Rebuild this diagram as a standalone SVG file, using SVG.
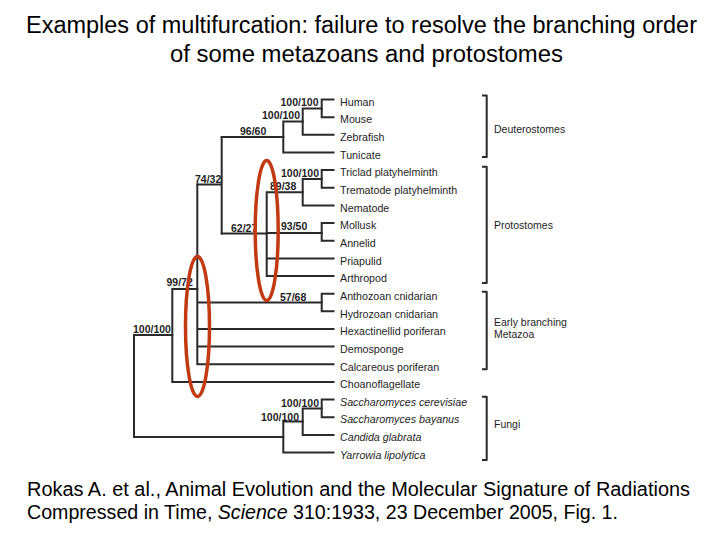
<svg xmlns="http://www.w3.org/2000/svg" width="720" height="540" viewBox="0 0 720 540">
<style>
.title{font-family:"Liberation Sans",Arial,sans-serif;font-size:23.5px;fill:#000}
.cite{font-family:"Liberation Sans",Arial,sans-serif;font-size:20px;fill:#000}
.leaf{font-family:"Liberation Sans",Arial,sans-serif;font-size:10.7px;fill:#1e1e1e}
.it{font-style:italic}
.bs{font-family:"Liberation Sans",Arial,sans-serif;font-size:10.5px;font-weight:bold;fill:#1e1e1e}
.clade{font-family:"Liberation Sans",Arial,sans-serif;font-size:10.5px;fill:#1e1e1e}
.br{fill:none;stroke:#2a2a2a;stroke-width:2;stroke-linecap:square;stroke-linejoin:miter}
.brk{fill:none;stroke:#2a2a2a;stroke-width:2;stroke-linejoin:round}
.hl{fill:none;stroke:#c23a12;stroke-width:3.5}
</style>
<rect width="720" height="540" fill="#fff"/>
<g id="title">
<text class="title" x="26" y="32.5" textLength="671" lengthAdjust="spacingAndGlyphs">Examples of multifurcation: failure to resolve the branching order</text>
<text class="title" x="170" y="62" textLength="393" lengthAdjust="spacingAndGlyphs">of some metazoans and protostomes</text>
</g>
<g id="connectors">
<!-- Deuterostomes -->
<path class="br" d="M321.7,99.5V117.2M321.7,99.5H333.5M321.7,117.2H333.5"/>
<path class="br" d="M302.7,108.4H321.7M302.7,108.4V134.8M302.7,134.8H333.5"/>
<path class="br" d="M283.3,121.6H302.7M283.3,121.6V152.5M283.3,152.5H333.5"/>
<path class="br" d="M221.7,137H283.3"/>
<!-- Protostomes -->
<path class="br" d="M321.7,170.1V187.8M321.7,170.1H333.5M321.7,187.8H333.5"/>
<path class="br" d="M302.7,179H321.7M302.7,179V205.4M302.7,205.4H333.5"/>
<path class="br" d="M321.7,223.1V240.7M321.7,223.1H333.5M321.7,240.7H333.5"/>
<path class="br" d="M266.7,192.2H302.7M266.7,192.2V276M266.7,233H321.7M266.7,258.4H333.5M266.7,276H333.5"/>
<path class="br" d="M221.7,233.5H266.7"/>
<path class="br" d="M221.7,137V233.5M197.3,184.5H221.7"/>
<!-- Early metazoa -->
<path class="br" d="M321.7,293.7V311.3M321.7,293.7H333.5M321.7,311.3H333.5"/>
<path class="br" d="M197.3,184.5V364.3M197.3,302.5H321.7M197.3,329H333.5M197.3,346.6H333.5M197.3,364.3H333.5"/>
<path class="br" d="M172.3,289H197.3M172.3,289V381.9M172.3,381.9H333.5"/>
<path class="br" d="M134,335H172.3M134,335V437"/>
<!-- Fungi -->
<path class="br" d="M321.7,399.6V417.2M321.7,399.6H333.5M321.7,417.2H333.5"/>
<path class="br" d="M302.7,408.4H321.7M302.7,408.4V434.9M302.7,434.9H333.5"/>
<path class="br" d="M283.3,421.6H302.7M283.3,421.6V452.5M283.3,452.5H333.5"/>
<path class="br" d="M134,437H283.3"/>
</g>
<g id="support-values">
<text class="bs" x="318.5" y="105.5" text-anchor="end">100/100</text>
<text class="bs" x="300" y="119" text-anchor="end">100/100</text>
<text class="bs" x="240" y="135">96/60</text>
<text class="bs" x="195" y="183">74/32</text>
<text class="bs" x="319" y="177" text-anchor="end">100/100</text>
<text class="bs" x="270" y="190">89/38</text>
<text class="bs" x="231" y="232">62/27</text>
<text class="bs" x="281" y="230">93/50</text>
<text class="bs" x="166.5" y="286">99/72</text>
<text class="bs" x="280" y="301">57/68</text>
<text class="bs" x="133" y="333">100/100</text>
<text class="bs" x="319" y="406.5" text-anchor="end">100/100</text>
<text class="bs" x="299" y="421" text-anchor="end">100/100</text>
</g>
<g id="taxa">
<g id="human"><text class="leaf" x="340" y="105.7">Human</text></g>
<g id="mouse"><text class="leaf" x="340" y="123.4">Mouse</text></g>
<g id="zebrafish"><text class="leaf" x="340" y="141">Zebrafish</text></g>
<g id="tunicate"><text class="leaf" x="340" y="158.7">Tunicate</text></g>
<g id="triclad"><text class="leaf" x="340" y="176.3">Triclad platyhelminth</text></g>
<g id="trematode"><text class="leaf" x="340" y="194">Trematode platyhelminth</text></g>
<g id="nematode"><text class="leaf" x="340" y="211.6">Nematode</text></g>
<g id="mollusk"><text class="leaf" x="340" y="229.3">Mollusk</text></g>
<g id="annelid"><text class="leaf" x="340" y="246.9">Annelid</text></g>
<g id="priapulid"><text class="leaf" x="340" y="264.6">Priapulid</text></g>
<g id="arthropod"><text class="leaf" x="340" y="282.2">Arthropod</text></g>
<g id="anthozoan"><text class="leaf" x="340" y="299.9">Anthozoan cnidarian</text></g>
<g id="hydrozoan"><text class="leaf" x="340" y="317.5">Hydrozoan cnidarian</text></g>
<g id="hexactinellid"><text class="leaf" x="340" y="335.2">Hexactinellid poriferan</text></g>
<g id="demosponge"><text class="leaf" x="340" y="352.8">Demosponge</text></g>
<g id="calcareous"><text class="leaf" x="340" y="370.5">Calcareous poriferan</text></g>
<g id="choanoflagellate"><text class="leaf" x="340" y="388.1">Choanoflagellate</text></g>
<g id="s-cerevisiae"><text class="leaf it" x="340" y="405.8">Saccharomyces cerevisiae</text></g>
<g id="s-bayanus"><text class="leaf it" x="340" y="423.4">Saccharomyces bayanus</text></g>
<g id="candida"><text class="leaf it" x="340" y="441.1">Candida glabrata</text></g>
<g id="yarrowia"><text class="leaf it" x="340" y="458.7">Yarrowia lipolytica</text></g>
</g>
<g id="clades">
<g id="deuterostomes"><path class="brk" d="M482,95.5H486.7V157H482"/><text class="clade" x="494" y="132.5">Deuterostomes</text></g>
<g id="protostomes"><path class="brk" d="M482,166.7H486.7V283H482"/><text class="clade" x="494" y="228.7">Protostomes</text></g>
<g id="early-metazoa"><path class="brk" d="M482,291.7H486.7V369.3H482"/><text class="clade" x="494" y="325.5">Early branching</text><text class="clade" x="494" y="338">Metazoa</text></g>
<g id="fungi"><path class="brk" d="M482,396.7H486.7V460H482"/><text class="clade" x="494" y="427.5">Fungi</text></g>
</g>
<g id="highlights">
<ellipse class="hl" cx="266.7" cy="230.5" rx="11.5" ry="70"/>
<ellipse class="hl" cx="197.5" cy="326.5" rx="12" ry="70"/>
</g>
<g id="citation">
<text class="cite" x="27" y="496" textLength="663" lengthAdjust="spacingAndGlyphs">Rokas A. et al., Animal Evolution and the Molecular Signature of Radiations</text>
<text class="cite" x="27" y="519" textLength="591" lengthAdjust="spacingAndGlyphs">Compressed in Time, <tspan font-style="italic">Science</tspan> 310:1933, 23 December 2005, Fig. 1.</text>
</g>
</svg>
